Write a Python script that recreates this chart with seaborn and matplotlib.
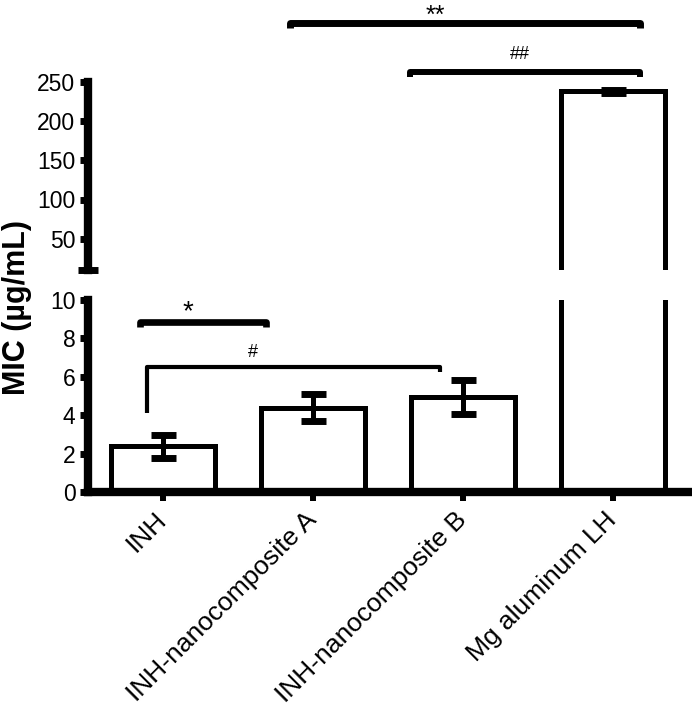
import numpy as np
import pandas as pd
import matplotlib
matplotlib.use("Agg")
import matplotlib.pyplot as plt
import seaborn as sns

# data
categories = ["INH", "INH-nanocomposite A", "INH-nanocomposite B", "Mg aluminum LH"]
mic_mean = [2.37, 4.4, 4.95, 238.0]
mic_sd = [0.6, 0.68, 0.87, 1.5]

df = pd.DataFrame({"group": categories, "mic": mic_mean, "sd": mic_sd})
df["pos"] = np.arange(len(df))

sns.set_style("white")
plt.rcParams["font.family"] = ["Liberation Sans", "DejaVu Sans"]
plt.rcParams.update({"axes.edgecolor": "black", "xtick.color": "black",
                     "ytick.color": "black", "text.color": "black"})

W, H = 692, 716
fig = plt.figure(figsize=(W / 100, H / 100), dpi=100)
# broken y axis: upper part 10-250, lower part 0-10
ax_top = fig.add_axes([88 / W, 1 - 270 / H, 604 / W, 188 / H])
ax_bot = fig.add_axes([88 / W, 1 - 492 / H, 604 / W, 192 / H])

for ax, part in ((ax_top, df[df["mic"] > 10]), (ax_bot, df[df["mic"] < 10])):
    sns.barplot(data=df, x="group", y="mic", color="white", saturation=1,
                edgecolor="black", linewidth=3.6, width=0.69, errorbar=None, ax=ax)
    ax.errorbar(part["pos"], part["mic"], yerr=part["sd"], fmt="none",
                ecolor="black", elinewidth=3.6, capsize=9, capthick=5)
    ax.set_xlim(-0.5, 3.527)
    ax.set_xlabel("")
    ax.set_ylabel("")
    for side in ["top", "right"]:
        ax.spines[side].set_visible(False)
    ax.spines["left"].set_linewidth(6)
    ax.tick_params(axis="y", which="both", left=True)
    ax.tick_params(axis="y", direction="out", length=6, width=5, labelsize=16.5, pad=3)
    ax.tick_params(axis="y", which="minor", direction="inout", length=14, width=5)
    ax.set_yticks([10], minor=True)

ax_top.set_ylim(10, 250)
ax_top.set_yticks([50, 100, 150, 200, 250])
ax_top.spines["bottom"].set_visible(False)
ax_top.tick_params(axis="x", bottom=False, labelbottom=False)

ax_bot.set_ylim(0, 10)
ax_bot.set_yticks([0, 2, 4, 6, 8, 10])
ax_bot.spines["bottom"].set_linewidth(6)
ax_bot.tick_params(axis="x", bottom=True, direction="out", length=6.5, width=4.3,
                   labelsize=19, pad=11)
ax_bot.set_xticks(range(len(categories)))
ax_bot.set_xticklabels(categories, rotation=45, ha="right", va="center",
                       rotation_mode="anchor")

# significance brackets
kw = dict(color="black", solid_joinstyle="round", solid_capstyle="butt", clip_on=False)
ax_bot.plot([-0.153, -0.153, 0.687, 0.687], [8.6, 8.85, 8.85, 8.6], lw=4.8, **kw)
ax_bot.text(0.167, 9.0, "*", ha="center", va="baseline", fontsize=20)
ax_bot.plot([-0.107, -0.107, 1.847, 1.847], [4.13, 6.5, 6.5, 6.25], lw=3, **kw)
ax_bot.text(0.6, 7.03, "#", ha="center", va="baseline", fontsize=13)

ax_top.plot([0.847, 0.847, 3.18, 3.18], [318.6, 325, 325, 318.6], lw=5, **kw)
ax_top.text(1.813, 325, "**", ha="center", va="baseline", fontsize=18)
ax_top.plot([1.647, 1.647, 3.18, 3.18], [256.5, 262.8, 262.8, 256.5], lw=4.3, **kw)
ax_top.text(2.38, 279.4, "##", ha="center", va="baseline", fontsize=13)

fig.text(0.025, 0.57, "MIC (µg/mL)", rotation=90, fontweight="bold", fontsize=22,
         ha="center", va="center")

fig.savefig("out.png", dpi=100)
